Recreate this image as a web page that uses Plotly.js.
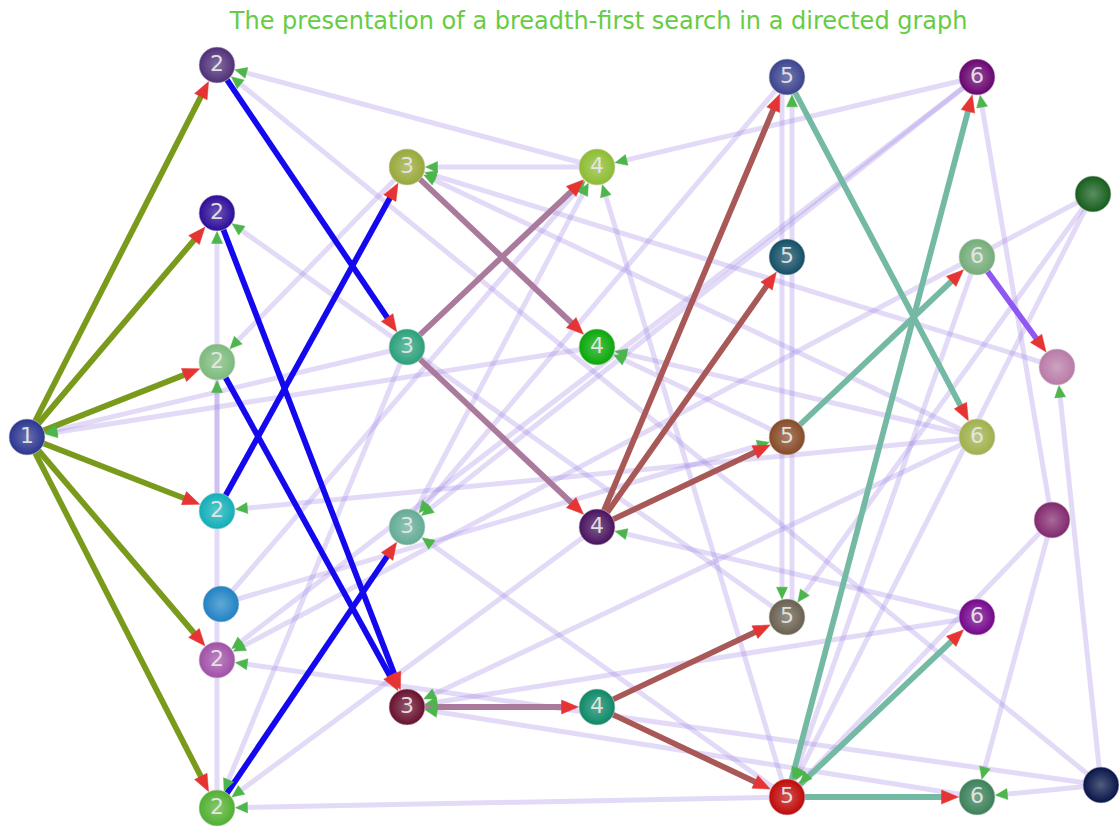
<!DOCTYPE html>
<html><head><meta charset="utf-8">
<script src="https://cdn.plot.ly/plotly-3.0.1.min.js"></script>
<style>html,body{margin:0;padding:0;background:#fff}#chart{width:1119px;height:828px}</style>
</head><body><div id="chart"></div>
<script>
// ---- data ----
const nodeNames  = ['A','B','C','D','E','F','G','H','I','J','K','L','M','N','O','P','Q','R','S','T','U','V','W','X','Y','Z','AA','AB','AC','AD'];
const nodeX      = [27,217,217,217,217,221,217,217,407,407,407,407,597,597,597,597,787,787,787,787,787,977,977,977,977,977,1093,1057,1052,1101];
const nodeY      = [437,65,213,362,511,604,660,808,167,347,527,707,167,347,527,707,77,257,437,617,797,77,257,437,617,797,194,367,520,785];
const nodeLabels = ['1','2','2','2','2','','2','2','3','3','3','3','4','4','4','4','5','5','5','5','5','6','6','6','6','6','','','',''];
const nodeColors = ['#2a3590','#4f2f78','#2c0c98','#7cba7c','#10afb8','#1f82c4','#a050a8','#50b030','#98a838','#2aa07a','#62ab94','#68102e','#8cbc30','#08a808','#48125e','#0c8866','#3a428e','#134e66','#864a26','#6a6050','#c00808','#680470','#74ac78','#a0b04a','#74068c','#3a8058','#155e1c','#b87aa6','#82286e','#061448'];

// BFS tree edges (thick) and the remaining edges (light)
const treeSource = ['A','A','A','A','A','A','B','C','D','E','H','I','J','J','L','O','O','O','P','P','Q','S','U','U','U','W'];
const treeTarget = ['B','C','D','E','G','H','J','L','L','I','K','N','M','O','P','Q','R','S','T','U','X','W','V','Y','Z','AB'];
const otherSource = ['M','AD','V','M','AB','X','I','T','H','E','J','N','X','Q','V','V','Y','Y','X','Z','AD','AD','AD','AC','AC','AC','AA','W','AA','X','S','Q','T','U','U','U','K','J','O','F','F','AA'];
const otherTarget = ['B','B','M','I','I','I','D','C','C','D','A','A','E','K','K','G','O','L','L','L','G','Z','AB','Z','V','U','G','U','U','N','N','T','Q','H','M','K','M','H','H','M','S','T'];

const levelColors = {'1':'#7a9a1c','2':'#1408ee','3':'#aa7a9c','4':'#a95858','5':'#74b9a3','6':'#9058f2'};
const lightEdgeColor = 'rgba(160,135,228,0.31)';
const redHead = '#e63434', greenHead = '#4cb54c';

// ---- helpers ----
const idx = n => nodeNames.indexOf(n);
const R = 18;
const allPairs = new Set();
treeSource.forEach((s,i)=>allPairs.add(s+'>'+treeTarget[i]));
otherSource.forEach((s,i)=>allPairs.add(s+'>'+otherTarget[i]));

function geom(s, t, headLen, headHalf){
  const a = idx(s), b = idx(t);
  let sx = nodeX[a], sy = nodeY[a], tx = nodeX[b], ty = nodeY[b];
  const dx = tx - sx, dy = ty - sy, L = Math.hypot(dx, dy);
  const ux = dx / L, uy = dy / L, nx = -uy, ny = ux;
  const off = allPairs.has(t+'>'+s) ? 5 : 0;
  sx += nx*off; sy += ny*off; tx += nx*off; ty += ny*off;
  const back = Math.sqrt(R*R - off*off) + 0.5;
  const tipx = tx - ux*back, tipy = ty - uy*back;
  const bx = tipx - ux*headLen, by = tipy - uy*headLen;
  return {
    line: {x:[sx, bx + ux*2], y:[sy, by + uy*2]},
    head: {x:[tipx, bx + nx*headHalf, bx - nx*headHalf, tipx, null],
           y:[tipy, by + ny*headHalf, by - ny*headHalf, tipy, null]}
  };
}

const traces = [];
const greenX = [], greenY = [], redX = [], redY = [];
otherSource.forEach((s,i)=>{
  const g = geom(s, otherTarget[i], 12, 5.5);
  traces.push({type:'scatter', mode:'lines', x:g.line.x, y:g.line.y,
    line:{color:lightEdgeColor, width:5}, hoverinfo:'skip'});
  greenX.push(...g.head.x); greenY.push(...g.head.y);
});
treeSource.forEach((s,i)=>{
  const g = geom(s, treeTarget[i], 17, 7);
  const lvl = nodeLabels[idx(s)] || '6';
  traces.push({type:'scatter', mode:'lines', x:g.line.x, y:g.line.y,
    line:{color:levelColors[lvl], width:5.8}, hoverinfo:'skip'});
  redX.push(...g.head.x); redY.push(...g.head.y);
});
traces.push({type:'scatter', mode:'lines', x:greenX, y:greenY, fill:'toself',
  fillcolor:greenHead, line:{color:greenHead, width:0.5}, hoverinfo:'skip'});
traces.push({type:'scatter', mode:'lines', x:redX, y:redY, fill:'toself',
  fillcolor:redHead, line:{color:redHead, width:0.5}, hoverinfo:'skip'});

function lighten(hex, f){
  const n = parseInt(hex.slice(1),16);
  const r=(n>>16)&255, g=(n>>8)&255, b=n&255;
  const m = c => Math.round(c + (255-c)*f);
  return 'rgb('+m(r)+','+m(g)+','+m(b)+')';
}
traces.push({type:'scatter', mode:'markers+text', x:nodeX, y:nodeY, text:nodeLabels,
  textposition:'middle center',
  textfont:{family:'DejaVu Sans', size:22, color:'rgba(232,232,232,0.95)'},
  marker:{size:36, color:nodeColors, opacity:1,
    gradient:{type:'radial', color:nodeColors.map(c=>lighten(c,0.3))},
    line:{color:'rgba(210,210,210,0.6)', width:1}},
  hoverinfo:'skip'});

const layout = {
  width:1119, height:828,
  margin:{l:0, r:0, t:0, b:0},
  paper_bgcolor:'#ffffff', plot_bgcolor:'#ffffff',
  showlegend:false,
  title:{text:'The presentation of a breadth-first search in a directed graph',
    font:{family:'DejaVu Sans', size:24, color:'#66cc44'},
    x:0.535, xref:'container', xanchor:'center', y:0.975, yref:'container', yanchor:'middle'},
  xaxis:{range:[0,1119], visible:false, fixedrange:true},
  yaxis:{range:[828,0], visible:false, fixedrange:true}
};
Plotly.newPlot('chart', traces, layout, {displayModeBar:false, staticPlot:true});
</script>
</body></html>
